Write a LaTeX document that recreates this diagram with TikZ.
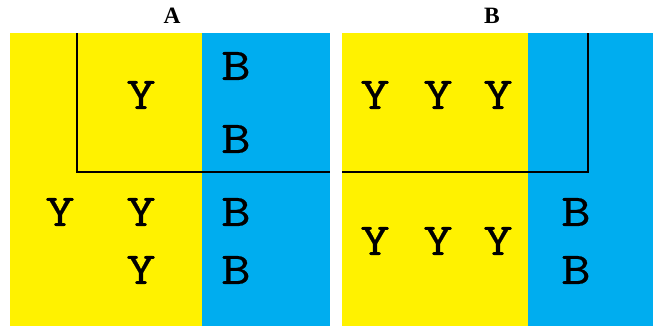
\documentclass[tikz,border=0pt]{standalone}
\usepackage{fontspec}
\newfontfamily\titlefont{Liberation Serif}
\newfontfamily\letterfont[FakeStretch=1.22, FakeBold=0.4]{lmmono10-regular.otf}
\usepackage{tikz}
\usetikzlibrary{positioning}
\definecolor{yel}{HTML}{FFF200}
\definecolor{cyanblue}{HTML}{00ADEF}

\begin{document}
\begin{tikzpicture}[x=0.03cm, y=-0.03cm,
    letter/.style={inner sep=0pt, font=\letterfont\fontsize{39}{39}\selectfont},
    title/.style={inner sep=0pt, font=\titlefont\bfseries\fontsize{20}{20}\selectfont}]
    \useasboundingbox (0,0) rectangle (656,329);

    % panel A
    \fill[yel] (10,33) rectangle (202,326);
    \fill[cyanblue] (202,33) rectangle (330,326);
    % panel B
    \fill[yel] (342,33) rectangle (528,326);
    \fill[cyanblue] (528,33) rectangle (653,326);

    % boundary lines
    \draw[line width=1.2pt] (77,33) -- (77,172) -- (330,172);
    \draw[line width=1.2pt] (342,172) -- (588,172) -- (588,33);

    \node (tA) [title] at (172,16) {A};
    \node (tB) [title] at (492,16) {B};

    % letters in A
    \node (A1) [letter] at (141,95) {Y};
    \node (A2) [letter] at (236,66) {B};
    \node (A3) [letter] at (236,139) {B};
    \node (A4) [letter] at (60,212) {Y};
    \node (A5) [letter] at (141,212) {Y};
    \node (A6) [letter] at (236,212) {B};
    \node (A7) [letter] at (141,270) {Y};
    \node (A8) [letter] at (236,270) {B};

    % letters in B
    \node (B1) [letter] at (375,95) {Y};
    \node (B2) [letter] at (438,95) {Y};
    \node (B3) [letter] at (498,95) {Y};
    \node (B4) [letter] at (375,241) {Y};
    \node (B5) [letter] at (438,241) {Y};
    \node (B6) [letter] at (498,241) {Y};
    \node (B7) [letter] at (576,212) {B};
    \node (B8) [letter] at (576,270) {B};
\end{tikzpicture}
\end{document}
